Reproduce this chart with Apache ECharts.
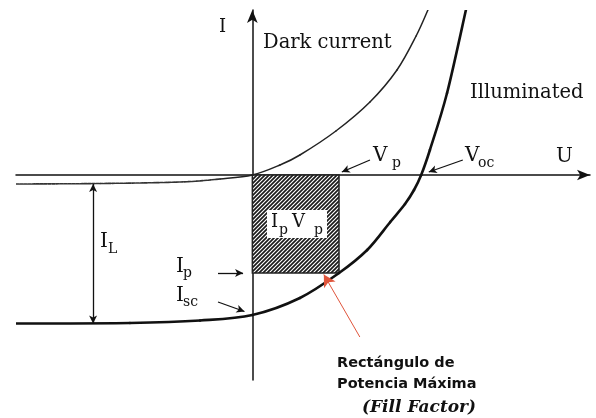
<!DOCTYPE html>
<html>
<head>
<meta charset="utf-8">
<script src="https://cdn.jsdelivr.net/npm/echarts@6/dist/echarts.min.js"></script>
<style>
  html, body { margin: 0; padding: 0; background: #fff; }
  #chart { width: 596px; height: 418px; }
</style>
</head>
<body>
<div id="chart"></div>
<script>
// Solar cell I–U characteristic (arbitrary units)
const darkU  = [-0.84, -0.541, -0.257, -0.115, 0, 0.098, 0.169, 0.297, 0.418, 0.514, 0.582, 0.624];
const darkI  = [-0.18, -0.17, -0.14, -0.08, 0, 0.2, 0.4, 0.88, 1.46, 2.1, 2.78, 3.3];
const illumU = [-0.84, -0.435, -0.186, 0, 0.169, 0.308, 0.408, 0.49, 0.5425, 0.5745, 0.6, 0.631, 0.692, 0.759];
const illumI = [-2.97, -2.96, -2.91, -2.8, -2.46, -1.96, -1.5, -0.94, -0.58, -0.3, 0, 0.5, 1.64, 3.3];

// characteristic points
const Vp = 0.308, Ip = -1.96;    // maximum power point
const Voc = 0.6, Isc = -2.8;     // open circuit / short circuit
const darkSat = -0.18, plateau = -2.97;

// axis extents
const uRange = [-0.84, 1.2];
const iRange = [-4.1, 3.3];

const zip = (a, b) => a.map((v, i) => [v, b[i]]);
const darkPts = zip(darkU, darkI);
const illumPts = zip(illumU, illumI);

function hatchCanvas() {
  const c = document.createElement('canvas');
  c.width = 4; c.height = 4;
  const g = c.getContext('2d');
  g.fillStyle = '#fff'; g.fillRect(0, 0, 4, 4);
  g.strokeStyle = '#1a1a1a'; g.lineWidth = 1.7;
  g.beginPath();
  g.moveTo(0, 4); g.lineTo(4, 0);
  g.moveTo(-1, 1); g.lineTo(1, -1);
  g.moveTo(3, 5); g.lineTo(5, 3);
  g.stroke();
  return c;
}

// One Catmull-Rom segment per data item, from point i to point i+1
function curveSeries(pts, styleFor) {
  return {
    type: 'custom', silent: true, clip: true, z: 3,
    data: pts,
    renderItem: (params, api) => {
      const i = params.dataIndex;
      if (i >= pts.length - 1) return null;
      const c = k => api.coord(pts[Math.max(0, Math.min(pts.length - 1, k))]);
      const p0 = c(i - 1), p1 = c(i), p2 = c(i + 1), p3 = c(i + 2);
      return {
        type: 'bezierCurve',
        shape: {
          x1: p1[0], y1: p1[1], x2: p2[0], y2: p2[1],
          cpx1: p1[0] + (p2[0] - p0[0]) / 6, cpy1: p1[1] + (p2[1] - p0[1]) / 6,
          cpx2: p2[0] - (p3[0] - p1[0]) / 6, cpy2: p2[1] - (p3[1] - p1[1]) / 6
        },
        style: Object.assign({ fill: null, lineCap: 'round' }, styleFor(pts[i]))
      };
    }
  };
}

const SERIF = '"DejaVu Serif", serif';
function label(x, y, text, size, opts) {
  return {
    type: 'text', x: x, y: y, z: 100,
    style: Object.assign({
      text: text, font: size + 'px ' + SERIF, fill: '#111',
      align: 'left', textAlign: 'left', verticalAlign: 'middle', textVerticalAlign: 'middle'
    }, (opts || {}))
  };
}

const arrow = (a, b) => [{ coord: a }, { coord: b }];

const chart = echarts.init(document.getElementById('chart'), null, { renderer: 'canvas' });
chart.setOption({
  animation: false,
  backgroundColor: '#fff',
  grid: { left: 16, right: 6, top: 10, bottom: 38, containLabel: false },
  xAxis: {
    type: 'value', min: uRange[0], max: uRange[1],
    axisLine: { show: true, onZero: true, symbol: ['none', 'arrow'], symbolSize: [8, 13],
      lineStyle: { color: '#111', width: 1.5 } },
    axisTick: { show: false }, axisLabel: { show: false }, splitLine: { show: false }
  },
  yAxis: {
    type: 'value', min: iRange[0], max: iRange[1],
    axisLine: { show: true, onZero: true, symbol: ['none', 'arrow'], symbolSize: [8, 13],
      lineStyle: { color: '#111', width: 1.5 } },
    axisTick: { show: false }, axisLabel: { show: false }, splitLine: { show: false }
  },
  series: [
    {
      type: 'custom', z: 1, silent: true,
      renderItem: (params, api) => {
        const p0 = api.coord([0, 0]);
        const p1 = api.coord([api.value(0), api.value(1)]);
        return {
          type: 'rect',
          shape: { x: p0[0], y: p0[1], width: p1[0] - p0[0], height: p1[1] - p0[1] },
          style: { fill: { image: hatchCanvas(), repeat: 'repeat' }, stroke: '#222', lineWidth: 1.5 }
        };
      },
      data: [[Vp, Ip]]
    },
    curveSeries(darkPts, p => p[0] < -0.115
      ? { stroke: '#333', lineWidth: 1.6, lineDash: [3, 1] }
      : { stroke: '#222', lineWidth: 1.5 }),
    curveSeries(illumPts, () => ({ stroke: '#111', lineWidth: 2.6 })),
    {
      type: 'line', data: [], silent: true,
      markLine: {
        silent: true, animation: false, symbol: ['none', 'arrow'], symbolSize: [6, 8],
        label: { show: false },
        lineStyle: { color: '#111', width: 1.3, type: 'solid' },
        emphasis: { disabled: true },
        data: [
          arrow([0.418, 0.30], [0.318, 0.06]),
          arrow([0.748, 0.30], [0.627, 0.06]),
          arrow([-0.122, Ip], [-0.033, Ip]),
          arrow([-0.122, -2.54], [-0.028, -2.73]),
          [{ coord: [-0.566, darkSat], symbol: 'arrow' }, { coord: [-0.566, plateau] }],
          [{ coord: [0.382, -3.24], lineStyle: { color: '#e0553c', width: 1 } },
           { coord: [0.254, -1.99], symbol: 'arrow', symbolSize: [10, 12], itemStyle: { color: '#f0380e' } }]
        ]
      }
    }
  ],
  graphic: [
    label(219, 27, 'I', 18),
    label(263, 43, 'Dark current', 19.5),
    label(470, 93, 'Illuminated', 19.5),
    label(373, 156, 'V', 20), label(392, 163, 'p', 14),
    label(465, 156, 'V', 20), label(478, 163, 'oc', 14),
    label(556, 157, 'U', 20),
    label(100, 242, 'I', 20), label(108, 249, 'L', 14),
    label(176, 267, 'I', 20), label(183, 273, 'p', 14),
    label(176, 296, 'I', 20), label(183, 302, 'sc', 14),
    { type: 'rect', z: 90, shape: { x: 267, y: 210, width: 60, height: 28 }, style: { fill: '#fff' } },
    label(271, 222, 'I', 18), label(279, 230, 'p', 14),
    label(292, 222, 'V', 18), label(314, 230, 'p', 14),
    label(337, 363, 'Rectángulo de', 14.5, { font: 'bold 14.5px "DejaVu Sans", sans-serif' }),
    label(337, 384, 'Potencia Máxima', 14.5, { font: 'bold 14.5px "DejaVu Sans", sans-serif' }),
    label(362, 408, '(Fill Factor)', 17, { font: 'italic bold 17px ' + SERIF })
  ]
});
</script>
</body>
</html>
